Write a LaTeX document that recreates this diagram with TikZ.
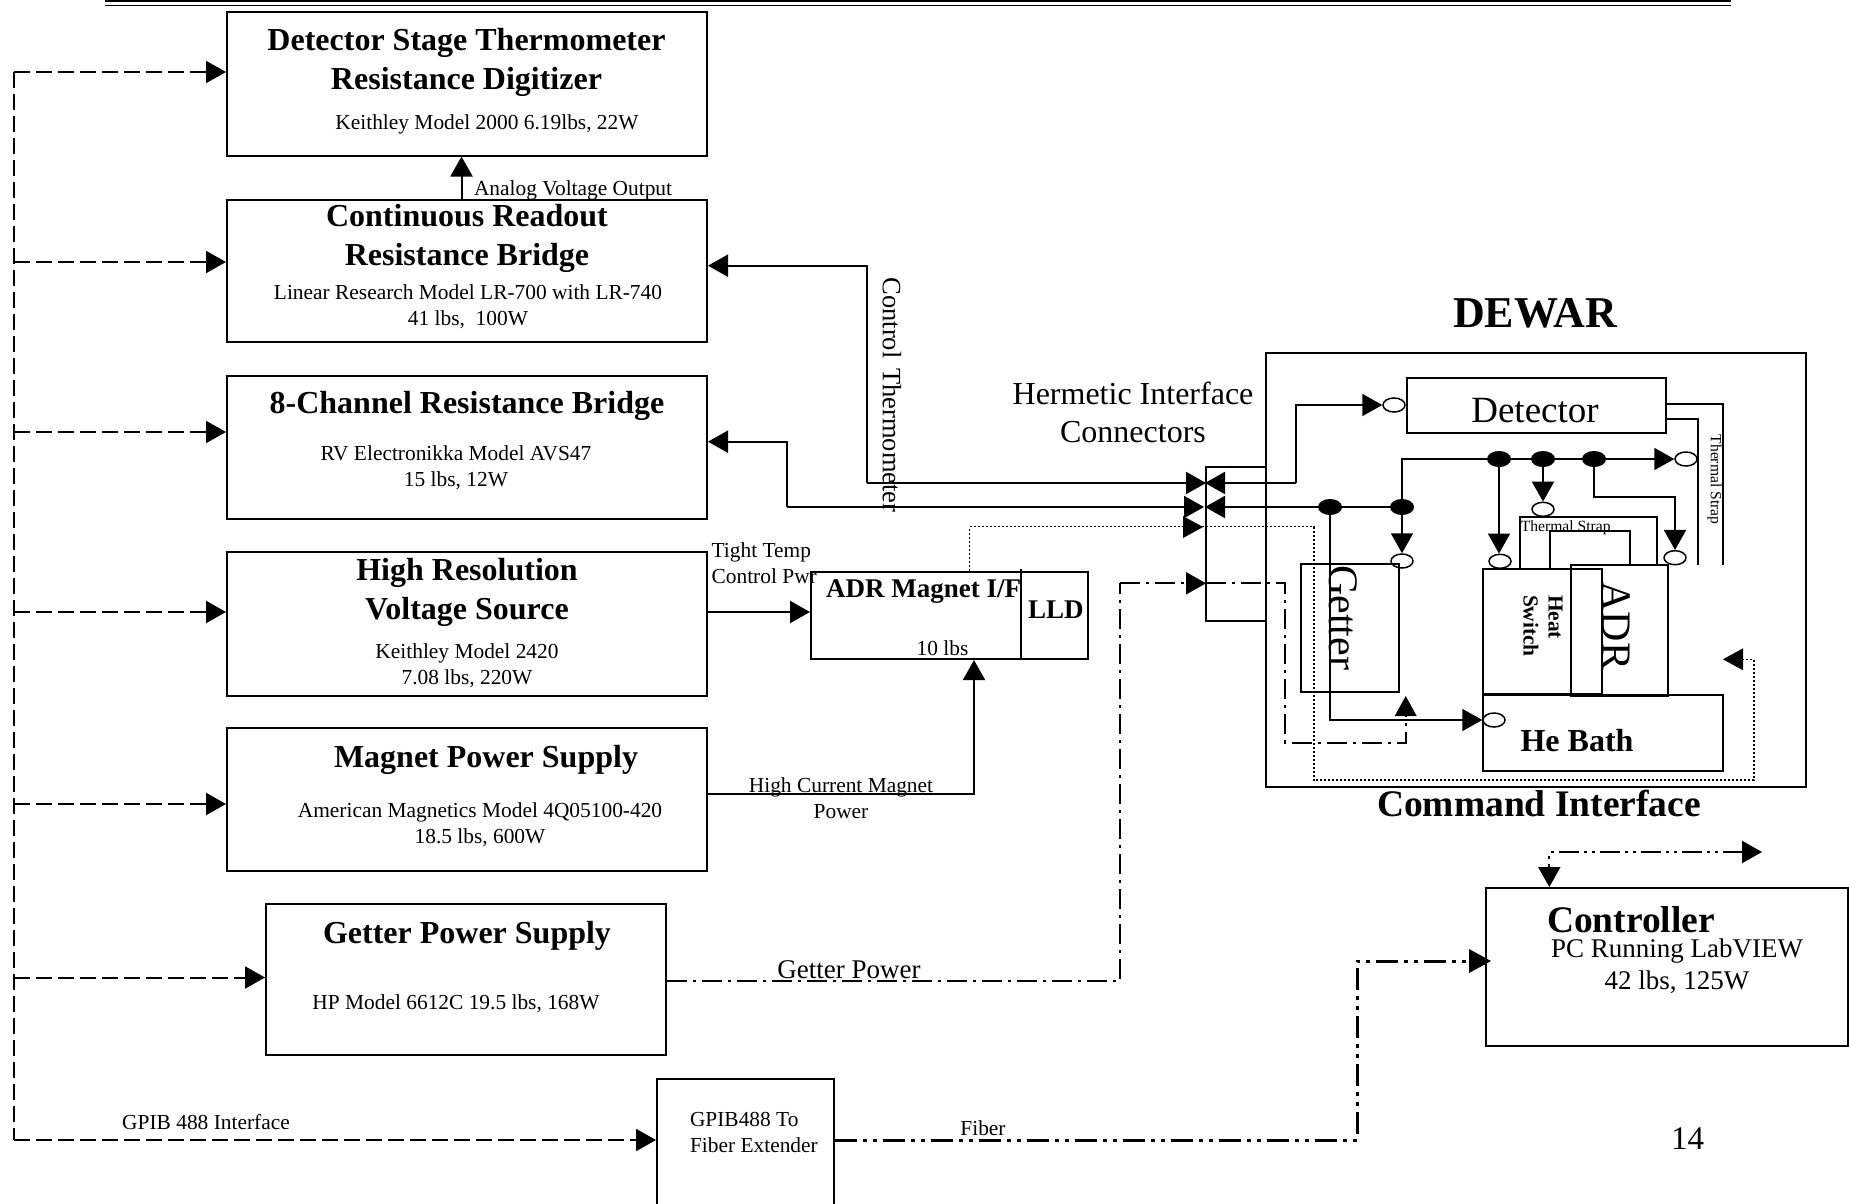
\documentclass[tikz,border=0pt]{standalone}
\usepackage{fontspec}
\setmainfont{Liberation Serif}
\usetikzlibrary{positioning,arrows.meta,shapes.geometric,calc}
\tikzset{
  blockbox/.style={draw,rectangle,inner sep=0pt},
  titletext/.style={inner sep=0pt,align=center,font=\fontsize{32}{39}\selectfont\bfseries},
  midbold/.style={inner sep=0pt,align=center,font=\fontsize{27}{32}\selectfont\bfseries},
  spectext/.style={inner sep=0pt,align=center,font=\fontsize{21.4}{26}\selectfont},
  largetext/.style={inner sep=0pt,align=center,font=\fontsize{32}{38}\selectfont},
  straptext/.style={inner sep=0pt,font=\fontsize{15.6}{18}\selectfont},
  port/.style={draw,ellipse,inner sep=0pt,minimum width=22pt,minimum height=14pt,line width=1.5pt},
  junction/.style={draw,fill=black,ellipse,inner sep=0pt,minimum width=22pt,minimum height=14pt},
  gpibline/.style={dash pattern=on 16pt off 6pt},
  powerline/.style={dash pattern=on 20pt off 6pt on 3pt off 6pt},
  fiberline/.style={line width=3pt,dash pattern=on 22pt off 6pt on 4pt off 6pt on 4pt off 6pt},
  cmdline/.style={dash pattern=on 20pt off 5pt on 3pt off 5pt on 3pt off 5pt},
  sensorline/.style={line width=1.5pt,dash pattern=on 2pt off 2pt}
}
\begin{document}
\begin{tikzpicture}[x=1pt,y=-1pt,line width=2pt,>={Triangle[length=20pt,width=22pt]}]
  \useasboundingbox (0,0) rectangle (1849,1204);
  \clip (0,0) rectangle (1849,1204);
  \draw[line width=2.6pt] (104.8,1) -- (1731,1);
  \draw[line width=1.4pt] (104.8,5.5) -- (1731,5.5);

  \node[blockbox,minimum width=480pt,minimum height=143pt] (digitizer) at (467,84) {};
  \node[blockbox,minimum width=480pt,minimum height=142pt] (contbridge) at (467,271) {};
  \node[blockbox,minimum width=480pt,minimum height=143pt] (chanbridge) at (467,447.5) {};
  \node[blockbox,minimum width=480pt,minimum height=144pt] (voltsource) at (467,624) {};
  \node[blockbox,minimum width=480pt,minimum height=143pt] (magsupply) at (467,799) {};
  \node[blockbox,minimum width=400pt,minimum height=151pt] (gettersupply) at (466,979.5) {};
  \node[blockbox,minimum width=177pt,minimum height=151pt] (extender) at (745.5,1154.5) {};
  \node[blockbox,minimum width=277pt,minimum height=87.5pt] (magnetif) at (949.5,615.3) {};
  \node[blockbox,minimum width=362pt,minimum height=158pt] (controller) at (1667,967) {};
  \node[blockbox,minimum width=540pt,minimum height=434pt] (dewar) at (1535.7,569.7) {};
  \node[blockbox,minimum width=60pt,minimum height=154pt] (hermetic) at (1236,543.8) {};
  \node[blockbox,minimum width=259pt,minimum height=55pt] (detector) at (1536,405.8) {};
  \node[blockbox,minimum width=98pt,minimum height=128pt] (getter) at (1350,628) {};
  \node[blockbox,minimum width=240pt,minimum height=76pt] (hebath) at (1603,733) {};
  \node[blockbox,minimum width=118.6pt,minimum height=125pt] (heatswitch) at (1542.3,631.5) {};
  \node[blockbox,minimum width=97pt,minimum height=131pt] (adr) at (1619.5,630.6) {};

  \node[titletext] (digitizertitle) at (466.5,62.5) {Detector Stage Thermometer\\Resistance Digitizer};
  \node[spectext] (digitizerspec) at (487,124) {Keithley Model 2000 6.19lbs, 22W};
  \node[titletext] (contbridgetitle) at (467,238) {Continuous Readout\\Resistance Bridge};
  \node[spectext] (contbridgespec) at (468,306.5) {Linear Research Model LR-700 with LR-740\\41 lbs,\ \ 100W};
  \node[titletext] (chanbridgetitle) at (467,406) {8-Channel Resistance Bridge};
  \node[spectext] (chanbridgespec) at (456,468) {RV Electronikka Model AVS47\\15 lbs, 12W};
  \node[titletext] (voltsourcetitle) at (467,592.5) {High Resolution\\Voltage Source};
  \node[spectext] (voltsourcespec) at (467,665.5) {Keithley Model 2420\\7.08 lbs, 220W};
  \node[titletext] (magsupplytitle) at (486,759.5) {Magnet Power Supply};
  \node[spectext] (magsupplyspec) at (480,824.5) {American Magnetics Model 4Q05100-420\\18.5 lbs, 600W};
  \node[titletext] (gettersupplytitle) at (467,936) {Getter Power Supply};
  \node[spectext] (gettersupplyspec) at (456,1004) {HP Model 6612C 19.5 lbs, 168W};
  \node[spectext,align=left,anchor=west] (extendertext) at (689,1132) {GPIB488 To\\Fiber Extender};
  \node[midbold] (magnettitle) at (923.6,592) {ADR Magnet I/F};
  \node[spectext] (magnetspec) at (942.5,648) {10 lbs};
  \node[midbold] (lldtitle) at (1055.8,610) {LLD};
  \coordinate (magnetsplit) at (1021,569.3);
  \draw (magnetsplit) -- (magnetsplit |- magnetif.south);

  \node[spectext,anchor=west] (analoglabel) at (473,190) {Analog Voltage Output};
  \node[spectext,align=left,anchor=west] (tightlabel) at (710.6,563) {Tight Temp\\Control Pwr};
  \node[spectext] (currentlabel) at (841,798) {High Current Magnet\\Power};
  \node[font=\fontsize{27}{32}\selectfont,inner sep=0pt] (getterlabel) at (849,970) {Getter Power};
  \node[spectext] (gpiblabel) at (206,1122.5) {GPIB 488 Interface};
  \node[spectext] (fiberlabel) at (983,1128) {Fiber};
  \node[font=\fontsize{26.5}{32}\selectfont,inner sep=0pt,rotate=-90] (thermolabel) at (892,395) {Control\hspace{3pt} Thermometer};
  \node[largetext] (hermeticlabel) at (1133,412.5) {Hermetic Interface\\Connectors};
  \node[inner sep=0pt,font=\fontsize{44}{50}\selectfont\bfseries] (dewartitle) at (1535,313) {DEWAR};
  \node[inner sep=0pt,font=\fontsize{37.5}{44}\selectfont\bfseries] (dewarcaption) at (1539,803) {Command Interface};
  \node[inner sep=0pt,font=\fontsize{37}{44}\selectfont] (detectortext) at (1535,411) {Detector};
  \node[inner sep=0pt,font=\fontsize{42}{50}\selectfont,rotate=-90] (gettertext) at (1343,617.5) {Getter};
  \node[inner sep=0pt,font=\fontsize{42}{50}\selectfont,rotate=-90] (adrtext) at (1616,626) {ADR};
  \node[inner sep=0pt,align=left,anchor=west,rotate=-90,font=\fontsize{21.4}{25}\selectfont\bfseries] (heattext) at (1543,594) {Heat\\Switch};
  \node[titletext] (hebathtext) at (1577,741) {He Bath};
  \node[straptext] (strapinner) at (1565.7,528) {Thermal Strap};
  \node[straptext,rotate=-90] (strapouter) at (1714.7,479.5) {Thermal Strap};
  \node[inner sep=0pt,font=\fontsize{37.5}{44}\selectfont\bfseries] (controllertitle) at (1631,920) {Controller};
  \node[inner sep=0pt,align=center,font=\fontsize{27}{32}\selectfont] (controllerspec) at (1677,966) {PC Running LabVIEW\\42 lbs, 125W};
  \node[inner sep=0pt,font=\fontsize{33}{40}\selectfont] (pagenum) at (1687.6,1139) {14};

  \node[port] (portdetector) at (1394,405) {};
  \node[port] (portgetter) at (1402,561) {};
  \node[port] (portswitch) at (1500,561.3) {};
  \node[port] (portstrap) at (1543,509.3) {};
  \node[port] (portadr) at (1675,557.7) {};
  \node[port] (portstage) at (1686,459) {};
  \node[port] (porthebath) at (1494,720) {};
  \node[junction] (jgetter) at (1330,507) {};
  \node[junction] (jbranch) at (1402,507) {};
  \node[junction] (jswitch) at (1499,459) {};
  \node[junction] (jstrap) at (1543,459) {};
  \node[junction] (jadr) at (1594,459) {};

  \coordinate (railtop) at (14,72);
  \coordinate (railbot) at (14,1140);
  \draw[gpibline] (railtop) -- (railbot);
  \draw[gpibline,->] (railtop) -- (railtop -| digitizer.west);
  \foreach \boxname/\railpos in {contbridge/262,chanbridge/432,voltsource/612,magsupply/804,gettersupply/977.5}{
    \coordinate (rail\boxname) at (14,\railpos);
    \draw[gpibline,->] (rail\boxname) -- (rail\boxname -| \boxname.west);
  }
  \draw[gpibline,->] (railbot) -- (railbot -| extender.west);

  \coordinate (analogfoot) at (461.5,200);
  \draw[->] (analogfoot) -- (analogfoot |- digitizer.south);

  \coordinate (outerA) at (1206,483);
  \coordinate (outerB) at (1204,507);
  \coordinate (outerC) at (1203,527);
  \coordinate (outerD) at (1206,583.3);
  \coordinate (thermobend) at (866.8,483);
  \coordinate (chanbend) at (786.8,507);
  \draw[->] (thermobend) |- (contbridge.east |- 0,265.7);
  \draw[->] (thermobend) -- (outerA);
  \draw[<-] (chanbridge.east |- 0,441.7) -| (chanbend);
  \draw[->] (chanbend) -- (outerB);

  \draw[->] (voltsource.east |- 0,612) -- (magnetif.west |- 0,612);
  \coordinate (currentbend) at (974,793.6);
  \draw[->] (magsupply.east |- currentbend) -- (currentbend) -- (currentbend |- magnetif.south);

  \coordinate (sensortop) at (969.7,526.7);
  \draw[sensorline] (sensortop |- magnetif.north) -- (sensortop);
  \draw[sensorline] (sensortop) -- (1313.9,526.7) -- (1313.9,780) -- (1754,780) -- (1754,659.3) -- (1743,659.3);
  \fill (outerC) -- ++(-20,-11) -- ++(0,22) -- cycle;
  \fill (1723,659.3) -- ++(20,-11) -- ++(0,22) -- cycle;

  \coordinate (powerbend) at (1120,583.3);
  \draw[powerline] (gettersupply.east |- 0,981) -| (powerbend);
  \draw[powerline,->] (powerbend) -- (outerD);
  \draw[powerline] (outerD) -- (1285,583.3) -- (1285,742.7) -- (1405.7,742.7) -- (1405.7,716);
  \fill (1405.7,696) -- ++(-11,20) -- ++(22,0) -- cycle;

  \coordinate (detbend) at (1296.3,483);
  \draw[->] (detbend) -- (hermetic.west |- detbend);
  \draw[->] (detbend) |- (portdetector.west);
  \draw[->] (jgetter) -- (hermetic.west |- jgetter);
  \draw (jgetter) -- (jbranch);
  \draw (jbranch) |- (jswitch);
  \draw (jswitch) -- (jstrap) -- (jadr);
  \draw[->] (jadr) -- (portstage.west);
  \draw[->] (jbranch) -- (portgetter.north);
  \draw[->] (jswitch) -- (jswitch |- portswitch.north);
  \draw[->] (jstrap) -- (portstrap.north);
  \draw[->] (jadr) |- (1675,496.7) -- (portadr.north);
  \draw[->] (jgetter) |- (porthebath.west);

  \draw (detector.east |- 0,404.3) -| (1723,565);
  \draw (detector.east |- 0,418.7) -| (1698.4,565);
  \draw (1519.6,569) |- (1656.7,517) -- (1656.7,565);
  \draw (1550,569) |- (1630,531) -- (1630,565);

  \coordinate (fiberbend) at (1357,1140);
  \draw[fiberline] (extender.east |- fiberbend) -- (fiberbend) -- (1357,961) -- (1472,961);
  \fill (1491,961) -- ++(-22,-12) -- ++(0,24) -- cycle;

  \coordinate (cmdbend) at (1549.3,852);
  \coordinate (cmdend) at (1762,852);
  \draw[cmdline,<->] (cmdend) -- (cmdbend) -- (cmdbend |- controller.north);
\end{tikzpicture}
\end{document}
